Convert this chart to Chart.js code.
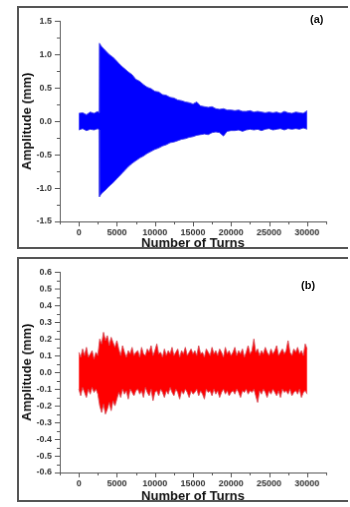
<!DOCTYPE html>
<html>
<head>
<meta charset="utf-8">
<script src="https://cdn.jsdelivr.net/npm/chart.js@4.4.1/dist/chart.umd.min.js"></script>
<style>
  body { margin: 0; background: #fff; width: 350px; height: 507px; overflow: hidden; position: relative; font-family: "Liberation Sans", Arial, sans-serif; }
  canvas { position: absolute; border: 2px solid #555; border-right: none; }
  #chartA { left: 17px; top: 6px; }
  #chartB { left: 17px; top: 257px; }
  .tag { position: absolute; font-weight: bold; font-size: 11px; color: #111; }
</style>
</head>
<body>
<canvas id="chartA" width="331" height="243"></canvas>
<canvas id="chartB" width="331" height="245"></canvas>
<div class="tag" style="left:310px; top:13px;">(a)</div>
<div class="tag" style="left:301px; top:279px;">(b)</div>
<script>
// panel (a) - envelope of the blue signal
const turnsA = [0, 500, 1000, 1500, 2000, 2500, 2650, 2700, 3000, 3500,
    4000, 4500, 5000, 5500, 6000, 6500, 7000, 7500, 8000, 8500,
    9000, 9500, 10000, 10500, 11000, 11500, 12000, 12500, 13000, 13500,
    14000, 14500, 15000, 15500, 16000, 16500, 17000, 17500, 18000, 18500,
    19000, 19500, 20000, 20500, 21000, 21500, 22000, 22500, 23000, 23500,
    24000, 24500, 25000, 25500, 26000, 26500, 27000, 27500, 28000, 28500,
    29000, 29500, 30000];
const upperA = [0.12, 0.13, 0.10, 0.14, 0.12, 0.15, 0.13, 1.17, 1.12, 1.06,
    1.00, 0.96, 0.90, 0.84, 0.79, 0.74, 0.70, 0.63, 0.60, 0.55,
    0.51, 0.49, 0.45, 0.44, 0.40, 0.39, 0.36, 0.35, 0.32, 0.31,
    0.29, 0.28, 0.26, 0.29, 0.23, 0.22, 0.21, 0.22, 0.19, 0.18,
    0.19, 0.17, 0.17, 0.16, 0.17, 0.15, 0.15, 0.16, 0.14, 0.15,
    0.14, 0.13, 0.14, 0.13, 0.14, 0.12, 0.15, 0.13, 0.12, 0.14,
    0.13, 0.12, 0.16];
const lowerA = [-0.13, -0.11, -0.14, -0.12, -0.13, -0.11, -0.13, -1.13, -1.08, -1.03,
    -0.97, -0.92, -0.86, -0.80, -0.74, -0.68, -0.63, -0.59, -0.55, -0.52,
    -0.48, -0.45, -0.42, -0.40, -0.37, -0.35, -0.32, -0.31, -0.29, -0.27,
    -0.26, -0.24, -0.23, -0.21, -0.20, -0.19, -0.20, -0.17, -0.16, -0.17,
    -0.22, -0.15, -0.14, -0.14, -0.13, -0.15, -0.13, -0.12, -0.13, -0.12,
    -0.14, -0.12, -0.11, -0.13, -0.12, -0.11, -0.13, -0.11, -0.12, -0.11,
    -0.12, -0.10, -0.12];

// panel (b) - envelope of the red signal
const turnsB = [0, 250, 500, 750, 1000, 1250, 1500, 1750, 2000, 2250,
    2500, 2750, 3000, 3250, 3500, 3750, 4000, 4250, 4500, 4750,
    5000, 5250, 5500, 5750, 6000, 6250, 6500, 6750, 7000, 7250,
    7500, 7750, 8000, 8250, 8500, 8750, 9000, 9250, 9500, 9750,
    10000, 10250, 10500, 10750, 11000, 11250, 11500, 11750, 12000, 12250,
    12500, 12750, 13000, 13250, 13500, 13750, 14000, 14250, 14500, 14750,
    15000, 15250, 15500, 15750, 16000, 16250, 16500, 16750, 17000, 17250,
    17500, 17750, 18000, 18250, 18500, 18750, 19000, 19250, 19500, 19750,
    20000, 20250, 20500, 20750, 21000, 21250, 21500, 21750, 22000, 22250,
    22500, 22750, 23000, 23250, 23500, 23750, 24000, 24250, 24500, 24750,
    25000, 25250, 25500, 25750, 26000, 26250, 26500, 26750, 27000, 27250,
    27500, 27750, 28000, 28250, 28500, 28750, 29000, 29250, 29500, 29750,
    30000];
const upperB = [0.12, 0.09, 0.14, 0.10, 0.15, 0.09, 0.11, 0.13, 0.08, 0.12,
    0.10, 0.20, 0.17, 0.24, 0.19, 0.22, 0.16, 0.21, 0.18, 0.15,
    0.19, 0.14, 0.10, 0.16, 0.12, 0.09, 0.13, 0.11, 0.15, 0.10,
    0.12, 0.13, 0.09, 0.15, 0.11, 0.10, 0.14, 0.12, 0.16, 0.10,
    0.13, 0.17, 0.11, 0.12, 0.09, 0.14, 0.10, 0.13, 0.11, 0.15,
    0.10, 0.12, 0.14, 0.09, 0.13, 0.11, 0.15, 0.10, 0.12, 0.14,
    0.11, 0.13, 0.10, 0.16, 0.11, 0.12, 0.09, 0.14, 0.12, 0.10,
    0.15, 0.11, 0.13, 0.10, 0.14, 0.12, 0.09, 0.15, 0.11, 0.13,
    0.10, 0.12, 0.15, 0.10, 0.13, 0.11, 0.14, 0.09, 0.12, 0.16,
    0.11, 0.13, 0.20, 0.12, 0.14, 0.10, 0.13, 0.11, 0.15, 0.12,
    0.10, 0.14, 0.11, 0.13, 0.16, 0.10, 0.12, 0.14, 0.11, 0.13,
    0.19, 0.12, 0.10, 0.14, 0.12, 0.15, 0.11, 0.13, 0.10, 0.17,
    0.14];
const lowerB = [-0.10, -0.14, -0.09, -0.12, -0.15, -0.10, -0.13, -0.09, -0.12, -0.10,
    -0.13, -0.20, -0.24, -0.19, -0.25, -0.22, -0.18, -0.23, -0.17, -0.20,
    -0.16, -0.12, -0.15, -0.10, -0.13, -0.11, -0.16, -0.10, -0.12, -0.14,
    -0.11, -0.10, -0.13, -0.11, -0.15, -0.09, -0.12, -0.14, -0.10, -0.17,
    -0.12, -0.11, -0.14, -0.10, -0.12, -0.15, -0.11, -0.13, -0.09, -0.12,
    -0.14, -0.10, -0.12, -0.16, -0.11, -0.13, -0.10, -0.12, -0.15, -0.11,
    -0.13, -0.12, -0.10, -0.14, -0.11, -0.13, -0.16, -0.10, -0.12, -0.11,
    -0.14, -0.10, -0.13, -0.11, -0.15, -0.12, -0.10, -0.13, -0.11, -0.14,
    -0.12, -0.11, -0.13, -0.10, -0.12, -0.15, -0.11, -0.12, -0.10, -0.13,
    -0.11, -0.12, -0.10, -0.14, -0.18, -0.11, -0.13, -0.10, -0.12, -0.15,
    -0.11, -0.13, -0.10, -0.12, -0.14, -0.11, -0.15, -0.10, -0.12, -0.11,
    -0.13, -0.10, -0.14, -0.12, -0.11, -0.13, -0.10, -0.15, -0.12, -0.11,
    -0.13];

const xTickLabels = ['0', '5000', '10000', '15000', '20000', '25000', '30000'];

Chart.defaults.font.family = '"Liberation Sans", Arial, sans-serif';
Chart.defaults.color = '#333';

// draws major / minor tick marks outward, like the original plot
const tickMarks = {
    id: 'tickMarks',
    afterDraw(chart) {
        const ctx = chart.ctx;
        const area = chart.chartArea;
        ctx.save();
        ctx.strokeStyle = '#555';
        ctx.lineWidth = 1;
        chart.scales.x.ticks.forEach(function (t) {
            const px = Math.round(chart.scales.x.getPixelForValue(t.value)) + 0.5;
            const len = t.label !== '' ? 5 : 3;
            ctx.beginPath();
            ctx.moveTo(px, area.bottom);
            ctx.lineTo(px, area.bottom + len);
            ctx.stroke();
        });
        chart.scales.y.ticks.forEach(function (t) {
            const py = Math.round(chart.scales.y.getPixelForValue(t.value)) + 0.5;
            const len = t.label !== '' ? 5 : 3;
            ctx.beginPath();
            ctx.moveTo(area.left, py);
            ctx.lineTo(area.left - len, py);
            ctx.stroke();
        });
        ctx.restore();
    }
};

function toPoints(xs, ys) {
    return xs.map(function (x, i) { return { x: x, y: ys[i] }; });
}

function makeChart(id, turns, upper, lower, fillColor, edgeColor, yMax, yStep, yLabelStep, topPad, xHeight) {
    const ctx = document.getElementById(id).getContext('2d');
    return new Chart(ctx, {
        type: 'line',
        data: {
            datasets: [{
                data: toPoints(turns, upper),
                borderColor: edgeColor,
                borderWidth: 1,
                pointRadius: 0,
                tension: 0,
                fill: false
            }, {
                data: toPoints(turns, lower),
                borderColor: edgeColor,
                borderWidth: 1,
                backgroundColor: fillColor,
                pointRadius: 0,
                tension: 0,
                fill: '-1'
            }]
        },
        options: {
            responsive: false,
            animation: false,
            layout: { autoPadding: false, padding: { left: 0, right: 22, top: topPad, bottom: 0 } },
            plugins: { legend: { display: false }, tooltip: { enabled: false } },
            scales: {
                x: {
                    type: 'linear',
                    min: -2500,
                    max: 32500,
                    grid: { display: false, drawTicks: false },
                    border: { display: true, color: '#555', width: 1 },
                    afterFit: function (scale) { scale.height = xHeight; },
                    ticks: {
                        stepSize: 2500,
                        autoSkip: false,
                        maxRotation: 0,
                        padding: 6,
                        font: { size: 9, weight: 'bold' },
                        callback: function (v) {
                            const s = String(v);
                            return xTickLabels.indexOf(s) >= 0 ? s : '';
                        }
                    },
                    title: {
                        display: true,
                        text: 'Number of Turns',
                        color: '#111',
                        font: { size: 13, weight: 'bold', lineHeight: 1 },
                        padding: { top: 0, bottom: -2.5 }
                    }
                },
                y: {
                    min: -yMax,
                    max: yMax,
                    grid: { display: false, drawTicks: false },
                    border: { display: true, color: '#555', width: 1 },
                    afterFit: function (scale) { scale.width = 41; },
                    ticks: {
                        stepSize: yStep,
                        autoSkip: false,
                        padding: 8,
                        font: { size: 9, weight: 'bold' },
                        callback: function (v) {
                            const r = v / yLabelStep;
                            return Math.abs(r - Math.round(r)) < 1e-6 ? v.toFixed(1) : '';
                        }
                    },
                    title: {
                        display: true,
                        text: 'Amplitude (mm)',
                        color: '#111',
                        font: { size: 13, weight: 'bold', lineHeight: 1 },
                        padding: { top: 2, bottom: 0 }
                    }
                }
            }
        },
        plugins: [tickMarks]
    });
}

makeChart('chartA', turnsA, upperA, lowerA, '#0000ff', 'rgba(70,70,235,0.9)', 1.5, 0.25, 0.5, 6, 26);
makeChart('chartB', turnsB, upperB, lowerB, '#ff0000', 'rgba(215,70,80,0.9)', 0.6, 0.05, 0.1, 5, 28);
</script>
</body>
</html>
